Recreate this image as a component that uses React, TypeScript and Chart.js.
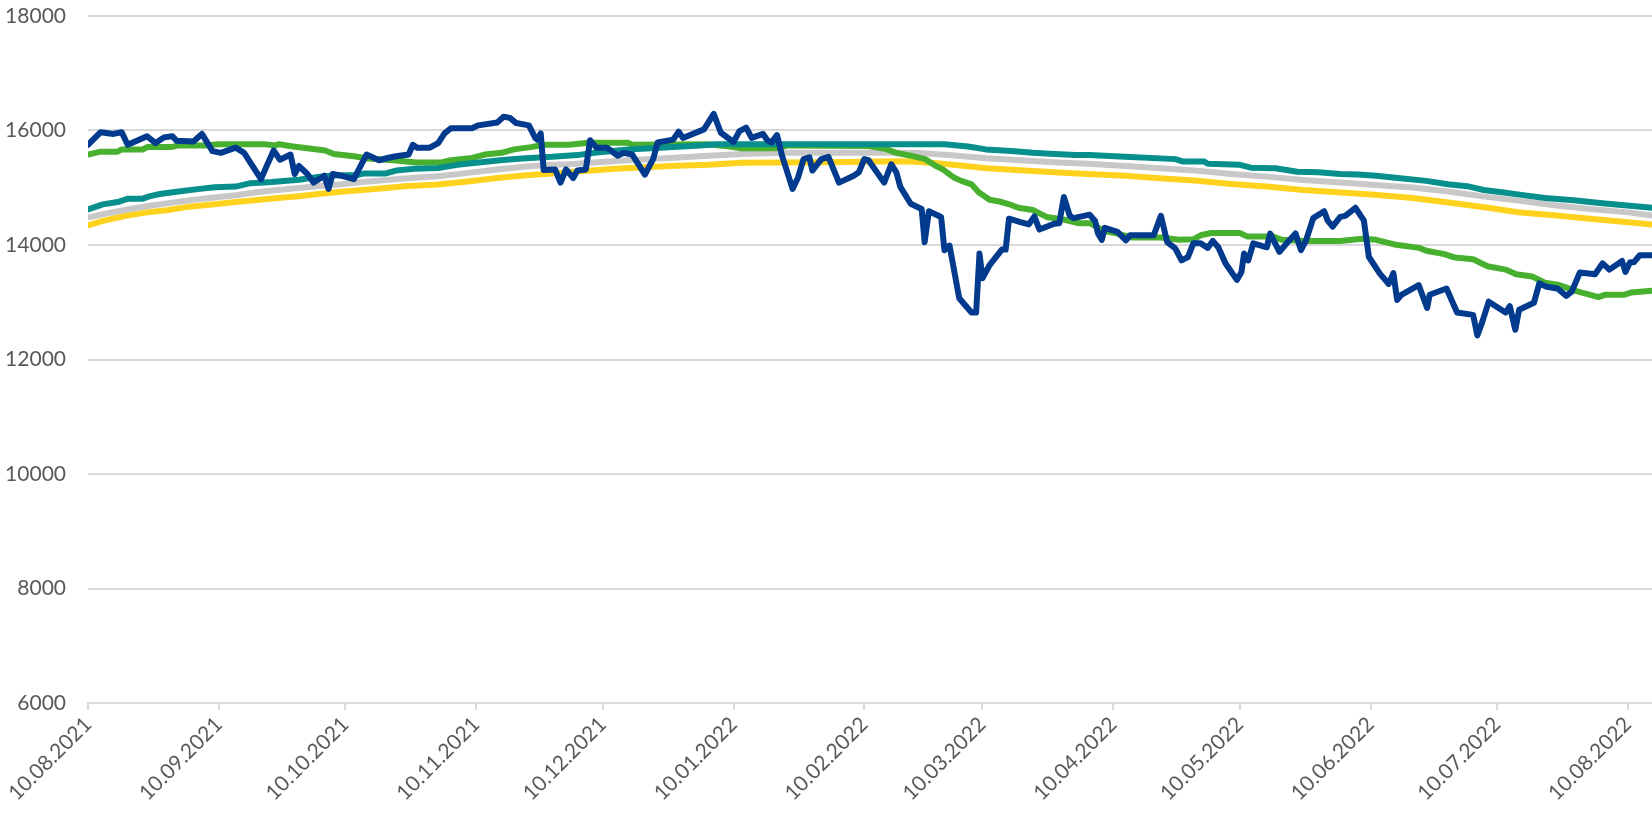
import React, { useEffect, useRef } from "react";
import { Chart, registerables } from "chart.js";

Chart.register(...registerables);

// x = days since 10.08.2021, y = value
const tickLabels = [
  "10.08.2021", "10.09.2021", "10.10.2021", "10.11.2021", "10.12.2021", "10.01.2022",
  "10.02.2022", "10.03.2022", "10.04.2022", "10.05.2022", "10.06.2022", "10.07.2022", "10.08.2022",
];
const xMaxDay = 370.7;
const yMin = 6000;
const yMax = 18000;
const yStep = 2000;

const priceSeries: [number, number][] = [
  [0, 15750], [3, 15970], [6, 15940], [8, 15970], [9.4, 15750], [14, 15900], [16, 15780], [18, 15880],
  [20, 15900], [21, 15820], [25, 15810], [27, 15940], [29.5, 15640], [31.5, 15610], [35, 15700], [37, 15610],
  [41, 15150], [42, 15320], [44, 15650], [45.5, 15490], [48, 15580], [49, 15240], [50, 15380], [52, 15240],
  [53.5, 15090], [56, 15210], [57, 14980], [58, 15240], [60, 15210], [63, 15150], [66, 15580], [69, 15480],
  [71, 15520], [73, 15550], [76, 15580], [77, 15750], [78, 15700], [81, 15700], [83, 15780], [84.5, 15950],
  [86, 16040], [91, 16040], [92.5, 16090], [97, 16140], [98.5, 16240], [100, 16220], [101.5, 16130], [104.5, 16090],
  [106, 15870], [106.5, 15840], [107.3, 15950], [108, 15310], [110.7, 15320], [112, 15090], [113.3, 15320], [115, 15170],
  [116, 15300], [118, 15320], [119, 15830], [120.5, 15700], [123, 15700], [125.5, 15560], [127, 15610], [129, 15580],
  [132, 15230], [134, 15510], [135, 15790], [138.7, 15840], [140, 15980], [141, 15870], [146, 16020], [148.3, 16290],
  [150, 15960], [153, 15800], [154.4, 15990], [156, 16050], [157.3, 15870], [160, 15940], [161, 15830], [162, 15790],
  [163.3, 15920], [164.5, 15560], [167, 14980], [168.3, 15180], [169.6, 15500], [171, 15530], [171.7, 15300], [173.8, 15500],
  [175.5, 15540], [178, 15090], [181.5, 15210], [182.7, 15270], [184, 15500], [185, 15480], [188.7, 15090], [190.4, 15410],
  [191.6, 15270], [192.5, 15020], [195, 14720], [197.6, 14630], [198.3, 14050], [199.3, 14590], [202.2, 14490], [203, 13910],
  [204.2, 13990], [206.5, 13070], [209.4, 12820], [210.5, 12820], [211.3, 13850], [212, 13420], [213.7, 13650], [216.6, 13920],
  [217.5, 13920], [218.3, 14460], [221, 14400], [223, 14360], [224.3, 14500], [225.5, 14270], [229, 14370], [230.2, 14380],
  [231.3, 14840], [232.7, 14510], [233.6, 14470], [237.4, 14530], [238.7, 14420], [239.4, 14200], [240.3, 14090], [241, 14300],
  [244, 14230], [246, 14080], [247, 14170], [252.6, 14170], [254.3, 14510], [255.8, 14050], [257.7, 13940], [259.2, 13730],
  [260.7, 13790], [262, 14030], [263.7, 14030], [265.4, 13950], [266.6, 14070], [267.9, 13960], [269.6, 13680], [272.3, 13390],
  [273.4, 13530], [274, 13850], [275, 13730], [276.2, 14030], [279.4, 13960], [280.2, 14200], [282.4, 13880], [284, 14020],
  [286.2, 14200], [287.5, 13910], [288.7, 14080], [290.4, 14470], [293, 14590], [293.8, 14430], [295, 14320], [296.8, 14490],
  [298, 14510], [300.4, 14650], [302.4, 14430], [303.6, 13790], [306.2, 13500], [308.3, 13320], [309.4, 13510], [310.3, 13040],
  [311.3, 13130], [315.4, 13300], [317.4, 12900], [318, 13130], [322, 13240], [324.5, 12820], [328.3, 12780], [329.3, 12420],
  [330.4, 12640], [332, 13010], [336, 12820], [337, 12930], [338.3, 12520], [339.2, 12870], [342.7, 12990], [344, 13330],
  [345.7, 13270], [348.3, 13240], [350.4, 13110], [351.7, 13190], [353.6, 13520], [357.2, 13490], [359, 13680], [360.6, 13570],
  [363.6, 13720], [364.4, 13530], [365.5, 13700], [366.4, 13700], [367.8, 13820], [370.7, 13820],
];

const tealSeries: [number, number][] = [
  [0, 14620], [3.5, 14710], [7, 14750], [9.5, 14810], [13, 14810], [14.5, 14850], [17, 14890], [21, 14930],
  [26.5, 14980], [30, 15010], [35, 15020], [38.5, 15080], [43.5, 15100], [50, 15140], [54.5, 15190], [58.7, 15220],
  [63.8, 15220], [65.5, 15250], [70.6, 15250], [73, 15300], [77.4, 15330], [83, 15345], [87.5, 15400], [92.6, 15440],
  [97.7, 15480], [102.8, 15510], [107, 15530], [110, 15540], [116, 15570], [120, 15610], [128, 15670], [137.7, 15707],
  [145, 15740], [149, 15760], [203, 15760], [208.6, 15720], [212.8, 15670], [218.8, 15640], [224, 15610], [227, 15600],
  [234, 15570], [237.3, 15570], [245.8, 15540], [257.7, 15500], [259.4, 15460], [264.5, 15460], [265.4, 15420], [273, 15400],
  [275.6, 15350], [281.5, 15340], [286.6, 15280], [291.7, 15270], [296.8, 15240], [301, 15230], [305.3, 15210], [310.4, 15170],
  [317.2, 15120], [322.3, 15060], [327.4, 15020], [330.8, 14960], [335.1, 14920], [339.3, 14880], [345.3, 14820], [352.1, 14780],
  [358.9, 14730], [364.8, 14690], [370.7, 14650],
];

const graySeries: [number, number][] = [
  [0, 14480], [5, 14560], [10, 14630], [15, 14690], [20, 14740], [25, 14790], [30, 14830], [35, 14870],
  [40, 14920], [45, 14960], [50, 14995], [55, 15030], [60, 15060], [65, 15100], [70, 15130], [75, 15160],
  [83, 15200], [90, 15260], [97, 15320], [104, 15370], [110, 15400], [114, 15410], [120, 15440], [128, 15480],
  [138, 15520], [147, 15560], [155, 15590], [165, 15610], [192, 15610], [197, 15605], [204, 15570], [213, 15515],
  [221, 15480], [230, 15440], [237, 15420], [246, 15380], [254, 15340], [263, 15295], [271, 15240], [280, 15190],
  [288, 15135], [297, 15090], [305, 15050], [314, 15005], [322, 14940], [331, 14845], [339, 14775], [348, 14690],
  [356, 14630], [365, 14570], [370.7, 14515],
];

const yellowSeries: [number, number][] = [
  [0, 14345], [4, 14430], [9, 14510], [14, 14570], [19, 14610], [24, 14670], [30, 14710], [35, 14750],
  [40, 14785], [45, 14820], [50, 14850], [55, 14895], [60, 14930], [65, 14960], [70, 14990], [75, 15025],
  [83, 15055], [90, 15110], [97, 15170], [104, 15220], [110, 15250], [116, 15285], [125, 15330], [132, 15360],
  [138, 15380], [147, 15400], [155, 15435], [165, 15440], [180, 15450], [192, 15465], [197, 15450], [201, 15430],
  [205, 15400], [213, 15340], [221, 15305], [230, 15265], [237, 15240], [246, 15208], [254, 15168], [263, 15121],
  [271, 15064], [280, 15017], [288, 14960], [297, 14919], [305, 14879], [314, 14821], [322, 14746], [331, 14659],
  [339, 14572], [348, 14514], [356, 14457], [365, 14399], [370.7, 14358],
];

const greenSeries: [number, number][] = [
  [0, 15580], [3, 15630], [7, 15630], [8, 15670], [13, 15670], [14, 15710], [19.7, 15710], [21.4, 15740],
  [28, 15740], [30.8, 15760], [41.8, 15760], [44.4, 15740], [45.3, 15760], [48.6, 15720], [52, 15690], [56.2, 15650],
  [58.3, 15590], [63, 15550], [66.4, 15510], [72.3, 15480], [78, 15440], [84, 15445], [86, 15480], [91, 15520],
  [94, 15580], [98, 15610], [101, 15670], [105, 15710], [108, 15750], [114, 15750], [118.7, 15785], [128, 15785],
  [129, 15750], [147, 15760], [152, 15720], [155, 15690], [163, 15690], [166, 15740], [185, 15730], [189, 15680],
  [191.6, 15610], [195, 15560], [198.4, 15500], [201, 15380], [202.6, 15320], [205.2, 15180], [207, 15120], [209.4, 15060],
  [211.1, 14920], [213.7, 14790], [216, 14760], [218, 14720], [220.5, 14650], [224, 14610], [227.2, 14490], [231.5, 14440],
  [234.9, 14380], [237.5, 14380], [240.7, 14250], [244, 14200], [247.5, 14130], [254.3, 14130], [258.6, 14090], [262, 14100],
  [263.7, 14170], [266.2, 14210], [273, 14210], [274.7, 14150], [280.7, 14150], [283, 14090], [288.3, 14070], [296.8, 14070],
  [302, 14110], [305.3, 14090], [309.6, 14010], [315.5, 13950], [317.2, 13900], [321.5, 13840], [324, 13780], [328.3, 13750],
  [331.7, 13630], [336, 13570], [338.5, 13490], [342.3, 13450], [345.3, 13340], [348.7, 13300], [353, 13190], [358, 13090],
  [359.5, 13130], [364, 13130], [365.7, 13170], [370.7, 13200],
];

const baseDate = tickLabels[0];

function dayOffset(label: string): number {
  const [d, m, y] = label.split(".").map(Number);
  const [bd, bm, by] = baseDate.split(".").map(Number);
  return Math.round((Date.UTC(y, m - 1, d) - Date.UTC(by, bm - 1, bd)) / 86400000);
}

const tickDays = tickLabels.map(dayOffset);

const toPoints = (s: [number, number][]) => s.map(([x, y]) => ({ x, y }));

const FONT = { family: "Lato, 'Open Sans', sans-serif", size: 21 };
const TEXT = "#595959";
const GRID = "#D9D9D9";

function lineDs(data: [number, number][], color: string) {
  return {
    data: toPoints(data),
    borderColor: color,
    backgroundColor: color,
    borderWidth: 6,
    pointRadius: 0,
    pointHoverRadius: 0,
    tension: 0,
    fill: false,
    borderCapStyle: "round" as const,
    borderJoinStyle: "round" as const,
  };
}

export default function App() {
  const ref = useRef<HTMLCanvasElement | null>(null);

  useEffect(() => {
    if (!ref.current) return;
    const chart = new Chart(ref.current, {
      type: "line",
      data: {
        datasets: [
          lineDs(priceSeries, "#023A8D"),
          lineDs(tealSeries, "#068F8D"),
          lineDs(greenSeries, "#47B02F"),
          lineDs(graySeries, "#C8C8C8"),
          lineDs(yellowSeries, "#FFD21E"),
        ],
      },
      options: {
        animation: false,
        responsive: false,
        maintainAspectRatio: false,
        layout: { padding: { top: 16, right: 0, left: 0, bottom: 0 } },
        plugins: { legend: { display: false }, tooltip: { enabled: false } },
        scales: {
          x: {
            type: "linear",
            min: 0,
            max: xMaxDay,
            afterBuildTicks: (s: any) => {
              s.ticks = tickDays.map((v) => ({ value: v }));
            },
            afterFit: (s: any) => {
              s.height = 116;
              s.paddingLeft = 0;
              s.paddingRight = 0;
            },
            ticks: {
              autoSkip: false,
              minRotation: 45,
              maxRotation: 45,
              color: TEXT,
              font: FONT,
              padding: 2,
              callback: (v: any) => {
                const i = tickDays.indexOf(Number(v));
                return i >= 0 ? tickLabels[i] : "";
              },
            },
            grid: {
              drawOnChartArea: false,
              drawTicks: true,
              tickLength: 7,
              color: GRID,
              lineWidth: 2,
            },
            border: { display: true, color: GRID, width: 2 },
          },
          y: {
            min: yMin,
            max: yMax,
            afterFit: (s: any) => {
              s.width = 88;
              s.paddingTop = 0;
              s.paddingBottom = 0;
            },
            ticks: {
              stepSize: yStep,
              color: TEXT,
              font: FONT,
              padding: 22,
              callback: (v: any) => String(v),
            },
            grid: { color: GRID, lineWidth: 2, drawTicks: false },
            border: { display: false },
          },
        },
      },
    } as any);
    return () => chart.destroy();
  }, []);

  return (
    <div style={{ position: "absolute", left: 0, top: 0, width: 1652, height: 819, background: "#fff" }}>
      <canvas ref={ref} width={1652} height={819} style={{ display: "block" }} />
    </div>
  );
}
